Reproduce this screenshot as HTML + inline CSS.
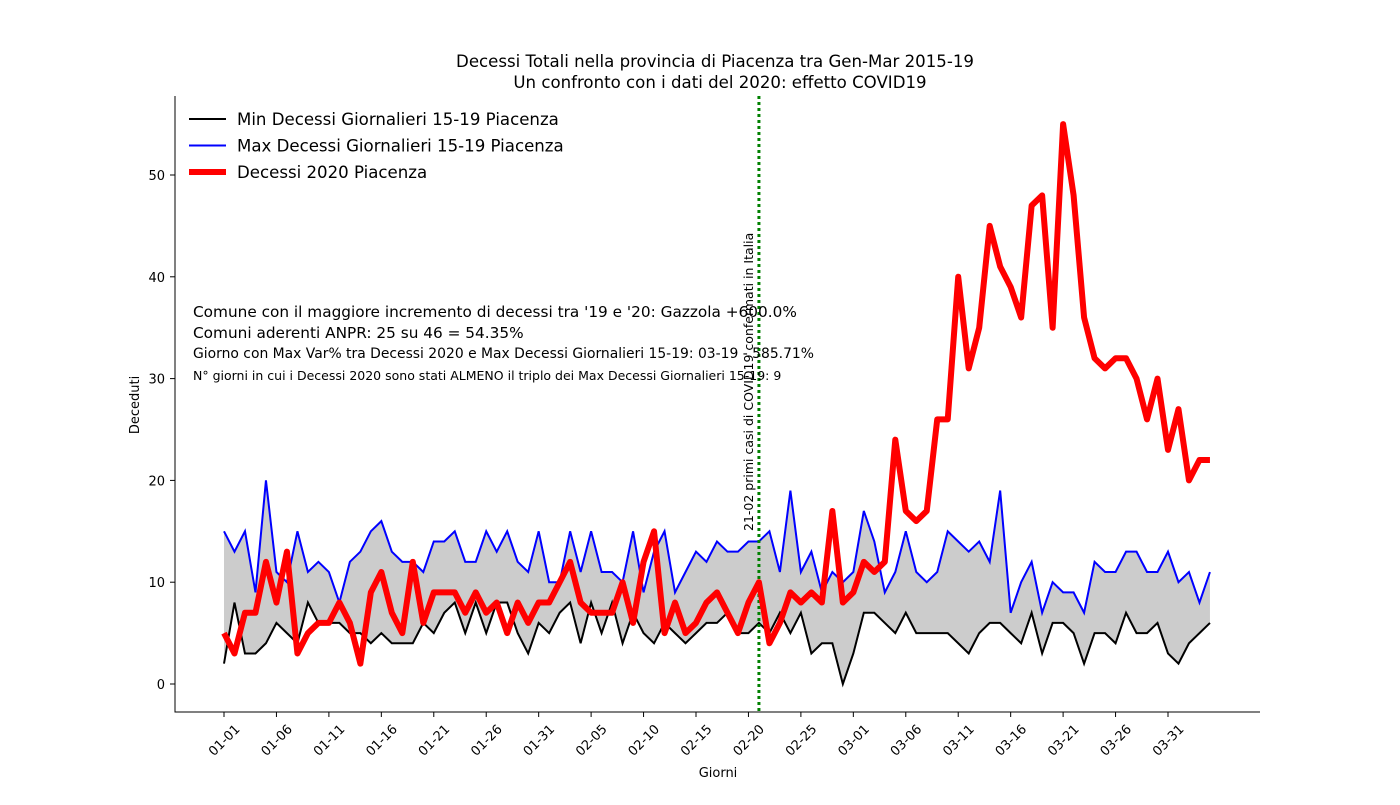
<!DOCTYPE html>
<html><head><meta charset="utf-8"><style>
body{margin:0;background:#fff;}
svg{font-family:"DejaVu Sans","Liberation Sans",sans-serif;}
</style></head><body>
<svg id="c" width="1400" height="800"></svg>
<script>
const categories=[];(function(){const m=[[1,31],[2,29],[3,31],[4,4]];for(const [mo,n] of m)for(let d=1;d<=n;d++)categories.push(String(mo).padStart(2,'0')+'-'+String(d).padStart(2,'0'));})();
const maxValues=[15,13,15,9,20,11,10,15,11,12,11,8,12,13,15,16,13,12,12,11,14,14,15,12,12,15,13,15,12,11,15,10,10,15,11,15,11,11,10,15,9,13,15,9,11,13,12,14,13,13,14,14,15,11,19,11,13,9,11,10,11,17,14,9,11,15,11,10,11,15,14,13,14,12,19,7,10,12,7,10,9,9,7,12,11,11,13,13,11,11,13,10,11,8,11];
const minValues=[2,8,3,3,4,6,5,4,8,6,6,6,5,5,4,5,4,4,4,6,5,7,8,5,8,5,8,8,5,3,6,5,7,8,4,8,5,8,4,7,5,4,6,5,4,5,6,6,7,5,5,6,5,7,5,7,3,4,4,0,3,7,7,6,5,7,5,5,5,5,4,3,5,6,6,5,4,7,3,6,6,5,2,5,5,4,7,5,5,6,3,2,4,5,6];
const deaths2020=[5,3,7,7,12,8,13,3,5,6,6,8,6,2,9,11,7,5,12,6,9,9,9,7,9,7,8,5,8,6,8,8,10,12,8,7,7,7,10,6,12,15,5,8,5,6,8,9,7,5,8,10,4,6,9,8,9,8,17,8,9,12,11,12,24,17,16,17,26,26,40,31,35,45,41,39,36,47,48,35,55,48,36,32,31,32,32,30,26,30,23,27,20,22,22];
const yTicks=[0,10,20,30,40,50];
const markerIndex=51;
const NS='http://www.w3.org/2000/svg';
const svg=document.getElementById('c');
function el(t,a,p){const e=document.createElementNS(NS,t);for(const k in a)e.setAttribute(k,a[k]);(p||svg).appendChild(e);return e;}
const X=i=>224+i*(1168-224)/90;
const Y=v=>684-v*(684-175)/50;
let d='M'+maxValues.map((v,i)=>X(i)+','+Y(v)).join('L');
for(let i=minValues.length-1;i>=0;i--)d+='L'+X(i)+','+Y(minValues[i]);
const band=el('path',{d:d+'Z',fill:'#cccccc'});


const lp=(arr)=>arr.map((v,i)=>(i?'L':'M')+X(i)+','+Y(v)).join('');
const minL=el('path',{d:lp(minValues),fill:'none',stroke:'#000','stroke-width':2});


const maxL=el('path',{d:lp(maxValues),fill:'none',stroke:'#0000ff','stroke-width':2});


const vx=X(markerIndex);
const vl=el('line',{x1:vx,x2:vx,y1:96,y2:712,stroke:'#008000','stroke-width':3,'stroke-dasharray':'3,3'});


const vt=el('text',{x:0,y:0,transform:`translate(${vx-6},531) rotate(-90)`,'font-size':12.5});
vt.textContent='21-02 primi casi di COVID19 confermati in Italia';


const rl=el('path',{d:lp(deaths2020),fill:'none',stroke:'#ff0000','stroke-width':6,'stroke-linejoin':'round'});


const ax=el('path',{d:'M175,96V712H1260',fill:'none',stroke:'#000','stroke-width':1});


yTicks.forEach(v=>{const y=Y(v);el('line',{x1:170,x2:175,y1:y,y2:y,stroke:'#000'});const t=el('text',{x:165,y:y+5,'text-anchor':'end','font-size':13});t.textContent=v;});
for(let i=0;i<categories.length;i+=5){const x=X(i);el('line',{x1:x,x2:x,y1:712,y2:717,stroke:'#000'});const t=el('text',{x:0,y:0,dy:'0.35em',transform:`translate(${x},740) rotate(-45)`,'text-anchor':'middle','font-size':13});t.textContent=categories[i];}
function txt(s,x,y,fs,name,anchor,rot){const t=el('text',{x,y,'font-size':fs,'text-anchor':anchor||'start'});if(rot)t.setAttribute('transform',rot);t.textContent=s;return t;}
txt('Decessi Totali nella provincia di Piacenza tra Gen-Mar 2015-19',715,67,16.6,'title-line1','middle');
txt('Un confronto con i dati del 2020: effetto COVID19',720,88,16.6,'title-line2','middle');
txt('Giorni',718,777,13,'x-axis-title','middle');
txt('Deceduti',0,0,13,'y-axis-title','middle','translate(139,405) rotate(-90)');
txt("Comune con il maggiore incremento di decessi tra '19 e '20: Gazzola +600.0%",193,317,15.3,'annotation-1');
txt('Comuni aderenti ANPR: 25 su 46 = 54.35%',193,338,15.3,'annotation-2');
txt('Giorno con Max Var% tra Decessi 2020 e Max Decessi Giornalieri 15-19: 03-19 - 585.71%',193,358,13.9,'annotation-3');
txt('N° giorni in cui i Decessi 2020 sono stati ALMENO il triplo dei Max Decessi Giornalieri 15-19: 9',193,380,12.5,'annotation-4');
const leg=[['Min Decessi Giornalieri 15-19 Piacenza','#000',2],['Max Decessi Giornalieri 15-19 Piacenza','#0000ff',2],['Decessi 2020 Piacenza','#ff0000',6]];
leg.forEach((l,i)=>{const y=119+i*26.5;const g=el('g',{});el('line',{x1:189,x2:226,y1:y,y2:y,stroke:l[1],'stroke-width':l[2]},g);const t=el('text',{x:237,y:y+6,'font-size':16.6},g);t.textContent=l[0];});
</script>
</body></html>
